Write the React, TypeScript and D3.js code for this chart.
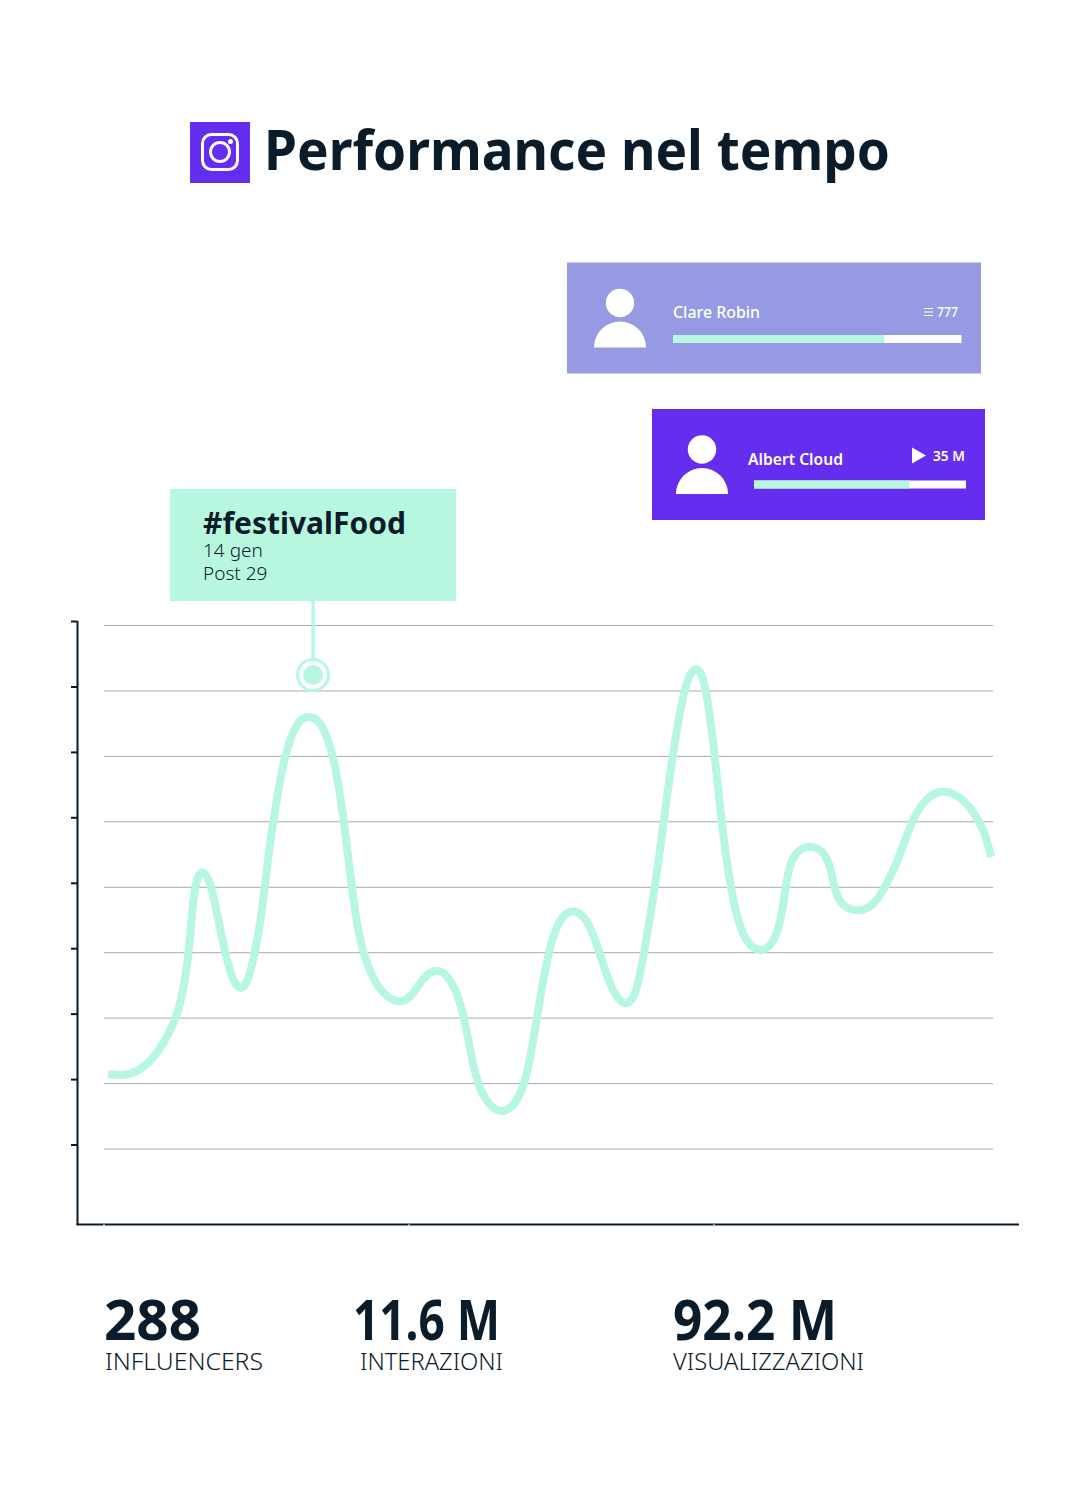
import React from "react";
import * as d3 from "d3";

const timeValues = [4,18,34,51,63,73,81,86,89,93,99,106,113,121,129,137,144,151,158,164,171,179,188,196,205,214,223,231,239,246,253,261,274,294,308,319,334,348,359,366,374,386,399,413,423,431,439,448,458,470,483,494,506,519,531,539,553,566,579,586,592,598,604,611,619,628,639,656,671,679,684,693,706,719,727,731,739,754,769,784,798,809,823,838,853,869,881,887];
const levelValues = [75,73,77,92,112,132,166,209,249,273,279,269,236,196,167,158,167,196,236,292,339,386,416,430,433,430,414,386,336,276,222,189,159,144,152,172,182,169,139,99,62,42,35,46,72,119,169,212,234,240,231,202,162,142,149,189,272,379,456,476,482,476,449,392,312,252,209,195,206,239,282,299,304,299,282,256,242,237,242,266,299,332,352,359,355,339,317,292];
const gridLevels = [0,65.4,130.9,196.3,261.7,327.2,392.6,458,523.5];
const timeTicks = [0,305,610];
const hashtag = "#festivalFood";
const hashtagLines = ["14 gen","Post 29"];
const highlightTime = 209;
const highlightLevel = 474;
const stats = [
  { value: "288", label: "INFLUENCERS" },
  { value: "11.6 M", label: "INTERAZIONI" },
  { value: "92.2 M", label: "VISUALIZZAZIONI" },
];
const profileShares = [0.732, 0.732];

const MINT = "#B8F7DF";
const INK = "#0A1B2A";
const PURPLE = "#652EEE";
const LILAC = "#959AE3";
const FONT = "'Noto Sans', sans-serif";

const x = d3.scaleLinear().domain([0, 889]).range([104, 993]);
const y = d3.scaleLinear().domain([0, 523.5]).range([1149, 625.5]);
const line = d3.line<number>()
  .x((_, i) => x(timeValues[i]))
  .y((d) => y(d))
  .curve(d3.curveBasis);

function Person({ cx, top }: { cx: number; top: number }) {
  return (
    <g fill="#fff">
      <circle cx={cx} cy={top + 14.5} r={14.2} />
      <path d={`M${cx - 26},${top + 59} A26,26 0 0 1 ${cx + 26},${top + 59} Z`} />
    </g>
  );
}

export default function App() {
  const bar1 = d3.scaleLinear().domain([0, 1]).range([673, 961.5]);
  const bar2 = d3.scaleLinear().domain([0, 1]).range([754, 966]);
  return (
    <svg width={1080} height={1493} viewBox="0 0 1080 1493"
      style={{ position: "absolute", left: 0, top: 0, background: "#fff", fontFamily: FONT }}>
      {/* title */}
      <rect x={190} y={122} width={60} height={61} fill={PURPLE} />
      <rect x={202.5} y={134.5} width={35} height={35} rx={9} fill="none" stroke="#fff" strokeWidth={3} />
      <circle cx={220} cy={152} r={9.5} fill="none" stroke="#fff" strokeWidth={3} />
      <circle cx={230.5} cy={141.5} r={2.5} fill="#fff" />
      <text x={264} y={170} fontSize={56} fontWeight={700} fill={INK} textLength={626} lengthAdjust="spacingAndGlyphs">Performance nel tempo</text>

      {/* card 1 */}
      <rect x={567} y={262.5} width={414} height={111} fill={LILAC} />
      <Person cx={620} top={288.5} />
      <text x={673} y={318} fontSize={16} fontWeight={500} fill="#fff" textLength={87} lengthAdjust="spacingAndGlyphs">Clare Robin</text>
      <g stroke="#fff" strokeWidth={1}>
        <line x1={924} x2={933} y1={308.5} y2={308.5} />
        <line x1={924} x2={933} y1={312} y2={312} />
        <line x1={924} x2={933} y1={315.5} y2={315.5} />
      </g>
      <text x={937} y={316.5} fontSize={14} fontWeight={500} fill="#fff" textLength={21} lengthAdjust="spacingAndGlyphs">777</text>
      <rect x={bar1(0)} y={335} width={bar1(1) - bar1(0)} height={8} fill="#fff" />
      <rect x={bar1(0)} y={335} width={bar1(profileShares[0]) - bar1(0)} height={8} fill={MINT} />

      {/* card 2 */}
      <rect x={652} y={409} width={333} height={111} fill={PURPLE} />
      <Person cx={702} top={435} />
      <text x={748} y={465} fontSize={16} fontWeight={600} fill="#fff" textLength={95} lengthAdjust="spacingAndGlyphs">Albert Cloud</text>
      <path d="M912,447.5 L926,455.5 L912,463.5 Z" fill="#fff" />
      <text x={933} y={461} fontSize={14} fontWeight={600} fill="#fff" textLength={32} lengthAdjust="spacingAndGlyphs">35 M</text>
      <rect x={bar2(0)} y={480.5} width={bar2(1) - bar2(0)} height={8} fill="#fff" />
      <rect x={bar2(0)} y={480.5} width={bar2(profileShares[1]) - bar2(0)} height={8} fill={MINT} />

      {/* grid */}
      {gridLevels.map((g) => (
        <line key={g} x1={x(0)} x2={x(889)} y1={y(g)} y2={y(g)} stroke="#aaaaaa" strokeWidth={1} />
      ))}

      {/* axes */}
      <g stroke={INK} fill="none">
        <line x1={77.5} x2={77.5} y1={621} y2={1225} strokeWidth={2} />
        <line x1={76.5} x2={1019} y1={1224.5} y2={1224.5} strokeWidth={2} />
        {gridLevels.map((g) => (
          <line key={g} x1={71} x2={77.5} y1={y(g) - 4} y2={y(g) - 4} strokeWidth={2} />
        ))}
      </g>
      {timeTicks.map((t) => (
        <line key={t} x1={x(t)} x2={x(t)} y1={1224} y2={1232} stroke="#f1f1f1" strokeWidth={1} />
      ))}

      {/* curve */}
      <path d={line(levelValues) ?? ""} fill="none" stroke={MINT} strokeWidth={8} />

      {/* callout */}
      <line x1={x(highlightTime)} x2={x(highlightTime)} y1={600} y2={y(highlightLevel) - 16} stroke={MINT} strokeWidth={3.4} />
      <circle cx={x(highlightTime)} cy={y(highlightLevel)} r={15.5} fill="#fff" stroke={MINT} strokeWidth={3} />
      <circle cx={x(highlightTime)} cy={y(highlightLevel)} r={10} fill={MINT} />
      <rect x={170} y={489} width={286} height={112} fill={MINT} />
      <text x={203} y={534} fontSize={30} fontWeight={700} fill={INK} textLength={203} lengthAdjust="spacingAndGlyphs">{hashtag}</text>
      {hashtagLines.map((t, i) => (
        <text key={t} x={203} y={557 + i * 23} fontSize={19} fontWeight={300} fill={INK}>{t}</text>
      ))}

      {/* stats */}
      {stats.map((s, i) => {
        const vx = [104, 353, 673][i];
        const lx = [105, 360, 673][i];
        const vw = [97, 147, 164][i];
        const lw = [158, 143, 191][i];
        return (
          <g key={s.label} fill={INK}>
            <text x={vx} y={1340} fontSize={56} fontWeight={700} textLength={vw} lengthAdjust="spacingAndGlyphs">{s.value}</text>
            <text x={lx} y={1370} fontSize={24} fontWeight={300} textLength={lw} lengthAdjust="spacingAndGlyphs">{s.label}</text>
          </g>
        );
      })}
    </svg>
  );
}
